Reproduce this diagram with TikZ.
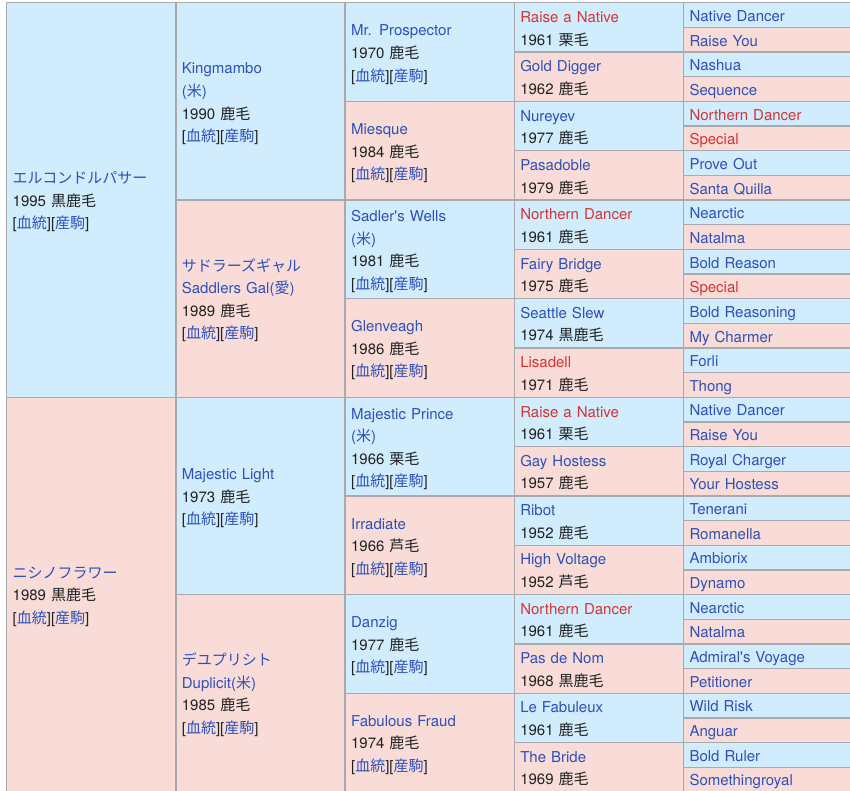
\documentclass[tikz,border=0pt]{standalone}
\usepackage{fontspec}
\setmainfont{TeX Gyre Heros}
\newfontfamily\jpf{Noto Sans CJK JP}
\definecolor{mblue}{RGB}{209,236,252}
\definecolor{fpink}{RGB}{249,220,216}
\definecolor{gridc}{RGB}{168,170,174}
\definecolor{blu}{RGB}{45,80,185}
\definecolor{rdd}{RGB}{214,52,52}
\definecolor{txt}{RGB}{32,33,34}
\newcommand{\jp}[1]{{\jpf #1}}
\newcommand{\lnk}[1]{\textcolor{blu}{#1}}
\newcommand{\sst}{\rule[-5pt]{0pt}{22.6pt}}
\newcommand{\pedl}{[\lnk{\jp{血統}}][\lnk{\jp{産駒}}]}
\tikzset{
  cell/.style={draw=gridc, line width=1.3pt, anchor=north west, outer sep=0pt,
    inner xsep=6pt, inner ysep=0pt, align=left, text width=157.2pt,
    font=\fontsize{15}{22.6}\selectfont, text=txt},
  mcell/.style={cell, fill=mblue},
  fcell/.style={cell, fill=fpink},
  h16/.style={minimum height=394.56pt},
  h8/.style={minimum height=197.28pt},
  h4/.style={minimum height=98.64pt},
  h2/.style={minimum height=49.32pt},
  h1/.style={minimum height=24.66pt}
}
\begin{document}
\begin{tikzpicture}[x=1pt,y=-1pt]
\useasboundingbox (0,0) rectangle (850,791);
\fill[white] (0,0) rectangle (850,791);
\clip (0,0) rectangle (850,791);
% column 1
\node[mcell,h16] (a1) at (6.7,2.8) {\sst\lnk{\jp{エルコンドルパサー}}\\\sst 1995 \jp{黒鹿毛}\\\sst\pedl};
\node[fcell,h16] (a2) at (6.7,397.36) {\sst\lnk{\jp{ニシノフラワー}}\\\sst 1989 \jp{黒鹿毛}\\\sst\pedl};
% column 2
\node[mcell,h8] (b1) at (175.9,2.8) {\sst\lnk{Kingmambo}\\\sst\lnk{(\jp{米})}\\\sst 1990 \jp{鹿毛}\\\sst\pedl};
\node[fcell,h8] (b2) at (175.9,200.08) {\sst\lnk{\jp{サドラーズギャル}}\\\sst\lnk{Saddlers Gal(\jp{愛})}\\\sst 1989 \jp{鹿毛}\\\sst\pedl};
\node[mcell,h8] (b3) at (175.9,397.36) {\sst\lnk{Majestic Light}\\\sst 1973 \jp{鹿毛}\\\sst\pedl};
\node[fcell,h8] (b4) at (175.9,594.64) {\sst\lnk{\jp{デユプリシト}}\\\sst\lnk{Duplicit(\jp{米})}\\\sst 1985 \jp{鹿毛}\\\sst\pedl};
% column 3
\node[mcell,h4] (c1) at (345.1,2.8) {\sst\lnk{Mr. Prospector}\\\sst 1970 \jp{鹿毛}\\\sst\pedl};
\node[fcell,h4] (c2) at (345.1,101.44) {\sst\lnk{Miesque}\\\sst 1984 \jp{鹿毛}\\\sst\pedl};
\node[mcell,h4] (c3) at (345.1,200.08) {\sst\lnk{Sadler\textquotesingle s Wells}\\\sst\lnk{(\jp{米})}\\\sst 1981 \jp{鹿毛}\\\sst\pedl};
\node[fcell,h4] (c4) at (345.1,298.72) {\sst\lnk{Glenveagh}\\\sst 1986 \jp{鹿毛}\\\sst\pedl};
\node[mcell,h4] (c5) at (345.1,397.36) {\sst\lnk{Majestic Prince}\\\sst\lnk{(\jp{米})}\\\sst 1966 \jp{栗毛}\\\sst\pedl};
\node[fcell,h4] (c6) at (345.1,496.0) {\sst\lnk{Irradiate}\\\sst 1966 \jp{芦毛}\\\sst\pedl};
\node[mcell,h4] (c7) at (345.1,594.64) {\sst\lnk{Danzig}\\\sst 1977 \jp{鹿毛}\\\sst\pedl};
\node[fcell,h4] (c8) at (345.1,693.28) {\sst\lnk{Fabulous Fraud}\\\sst 1974 \jp{鹿毛}\\\sst\pedl};
% column 4
\foreach \nm/\tc/\yr/\coat [count=\i from 0] in {
  Raise a Native/rdd/1961/栗毛, Gold Digger/blu/1962/鹿毛,
  Nureyev/blu/1977/鹿毛, Pasadoble/blu/1979/鹿毛,
  Northern Dancer/rdd/1961/鹿毛, Fairy Bridge/blu/1975/鹿毛,
  Seattle Slew/blu/1974/黒鹿毛, Lisadell/rdd/1971/鹿毛,
  Raise a Native/rdd/1961/栗毛, Gay Hostess/blu/1957/鹿毛,
  Ribot/blu/1952/鹿毛, High Voltage/blu/1952/芦毛,
  Northern Dancer/rdd/1961/鹿毛, Pas de Nom/blu/1968/黒鹿毛,
  Le Fabuleux/blu/1961/鹿毛, The Bride/blu/1969/鹿毛}{
  \ifodd\i\relax\def\fc{fpink}\else\def\fc{mblue}\fi
  \node[cell,h2,fill=\fc] (d\i) at (514.3,{2.8+\i*49.32}) {\sst\textcolor{\tc}{\nm}\\\sst\yr\ \jp{\coat}};
}
% column 5
\foreach \nm/\tc [count=\i from 0] in {
  Native Dancer/blu, Raise You/blu, Nashua/blu, Sequence/blu,
  Northern Dancer/rdd, Special/rdd, Prove Out/blu, Santa Quilla/blu,
  Nearctic/blu, Natalma/blu, Bold Reason/blu, Special/rdd,
  Bold Reasoning/blu, My Charmer/blu, Forli/blu, Thong/blu,
  Native Dancer/blu, Raise You/blu, Royal Charger/blu, Your Hostess/blu,
  Tenerani/blu, Romanella/blu, Ambiorix/blu, Dynamo/blu,
  Nearctic/blu, Natalma/blu, Admiral\textquotesingle s Voyage/blu, Petitioner/blu,
  Wild Risk/blu, Anguar/blu, Bold Ruler/blu, Somethingroyal/blu}{
  \ifodd\i\relax\def\fc{fpink}\else\def\fc{mblue}\fi
  \node[cell,h1,fill=\fc] (e\i) at (683.5,{2.8+\i*24.66}) {\sst\textcolor{\tc}{\nm}};
}
\end{tikzpicture}
\end{document}
